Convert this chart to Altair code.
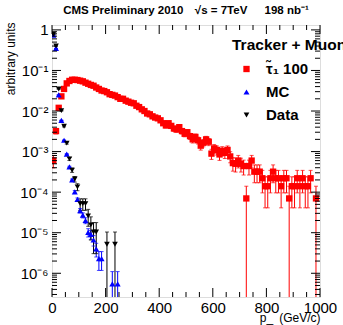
import altair as alt
import pandas as pd
import math

# ---------------- data ----------------
red_x = list(range(5, 1000, 10))
red_y = [6.0e-4, 3.2e-3, 1.2e-2, 2.3e-2, 3.5e-2, 4.8e-2, 5.5e-2, 5.9e-2, 5.9e-2, 5.8e-2,
         5.6e-2, 5.4e-2, 5.0e-2, 4.7e-2, 4.4e-2, 4.2e-2, 3.8e-2, 3.5e-2, 3.2e-2, 3.1e-2,
         2.9e-2, 2.6e-2, 2.5e-2, 2.4e-2, 2.2e-2, 2.0e-2, 2.0e-2, 1.8e-2, 1.7e-2, 1.6e-2,
         1.55e-2, 1.35e-2, 1.25e-2, 1.1e-2, 1.0e-2, 8.7e-3, 8.3e-3, 7.4e-3, 6.9e-3, 6.6e-3,
         5.9e-3, 5.0e-3, 4.4e-3, 5.0e-3, 4.3e-3, 3.7e-3, 3.5e-3, 4.0e-3, 3.2e-3, 2.75e-3,
         3.0e-3, 2.4e-3, 2.0e-3, 2.3e-3, 1.9e-3, 1.4e-3, 1.65e-3, 2.0e-3, 1.75e-3, 8.9e-4,
         1.2e-3, 1.1e-3, 8.5e-4, 1.05e-3, 9.3e-4, 1.1e-3, 7.6e-4, 5.2e-4, 5.0e-4, 6.0e-4,
         5.0e-4, 4.4e-4, 7.0e-5, 4.4e-4, 6.0e-4, 3.2e-4, 3.2e-4, 3.2e-4, 2.2e-4, 1.4e-4,
         1.4e-4, 2.2e-4, 3.2e-4, 2.2e-4, 2.2e-4, 1.4e-4, 2.2e-4, 2.2e-4, 7.0e-5, 1.4e-4,
         1.4e-4, 2.2e-4, 1.4e-4, 2.2e-4, 1.4e-4, 1.4e-4, 2.2e-4, None, 7.0e-5, None]
red_w = 7.0e-5

mc_x = [5, 15, 25, 35, 45, 55, 65, 75, 85, 95, 105, 115, 125, 135, 145, 155, 165, 175, 185, 225, 245]
mc_y = [0.74, 0.35, 0.025, 5.9e-3, 1.9e-3, 8.7e-4, 4.2e-4, 2.0e-4, 1.02e-4, 6.6e-5, 3.5e-5,
        2.7e-5, 2.0e-5, 1.02e-5, 9.1e-6, 6.6e-6, 4.0e-6, 2.3e-6, 2.3e-6, 5.5e-7, 5.5e-7]
mc_w = 5.5e-7

data_x = [5, 15, 25, 35, 45, 55, 65, 75, 85, 95, 105, 115, 125, 135, 145, 155, 165, 205, 235]
data_y = [0.78, 0.40, 0.035, 0.0102, 4.2e-3, 1.62e-3, 6.6e-4, 3.5e-4, 2.1e-4, 1.35e-4, 5.2e-5,
          5.2e-5, 5.2e-5, 2.6e-5, 1.56e-5, 1.04e-5, 1.04e-5, 5.2e-6, 5.2e-6]
data_w = 5.2e-6

series_names = ["τ̃₁ 100", "MC", "Data"]
series_colors = ["#ff0000", "#0000ff", "#000000"]
series_shapes = ["square", "triangle-up", "triangle-down"]
series_sizes = [40, 32, 32]

x_labels = [0, 200, 400, 600, 800, 1000]
y_labels = [1e-6, 1e-5, 1e-4, 1e-3, 1e-2, 1e-1, 1]

YMIN, YMAX = 2.6e-7, 1.32
XMIN, XMAX = 0, 1000
W, H = 268, 272

# ---------------- tables ----------------
rows = []
for name, xs_, ys_, w in [(series_names[0], red_x, red_y, red_w),
                          (series_names[1], mc_x, mc_y, mc_w),
                          (series_names[2], data_x, data_y, data_w)]:
    for x, y in zip(xs_, ys_):
        if y is None:
            continue
        err = math.sqrt(y * w)
        lo = y - err
        rows.append(dict(series=name, x=x, y=y, hi=y + err,
                         lo=max(lo, YMIN), has_lo=bool(lo > YMIN * 1.01)))
df = pd.DataFrame(rows)

ymaj = pd.DataFrame({"v": [10.0 ** k for k in range(-6, 1)]})
ymin_t = pd.DataFrame({"v": [m * 10.0 ** k for k in range(-7, 1) for m in range(2, 10)
                             if YMIN < m * 10.0 ** k < YMAX]})
xmaj = pd.DataFrame({"v": list(range(0, 1001, 200))})
xmin_t = pd.DataFrame({"v": [v for v in range(50, 1000, 50) if v % 200]})

xs = alt.Scale(domain=[XMIN, XMAX], nice=False, zero=False)
ys = alt.Scale(type="log", domain=[YMIN, YMAX], nice=False)
cscale = alt.Scale(domain=series_names, range=series_colors)
sscale = alt.Scale(domain=series_names, range=series_shapes)
zscale = alt.Scale(domain=series_names, range=series_sizes)

FONT = "Liberation Sans"
SP = "\u2002"

x_axis = alt.Axis(values=x_labels, format="d", ticks=False, tickSize=0, domain=False, grid=False,
                  labelFontSize=15, labelFont=FONT, labelColor="black", labelPadding=3,
                  labelFlush=False, labelOverlap=False,
                  title="p_" + SP + "(GeV/c)", titleFont=FONT, titleFontSize=12,
                  titleFontWeight="normal", titleColor="black", titleX=W, titleY=20,
                  titleAlign="right", titleBaseline="middle")
y_axis = alt.Axis(values=y_labels, ticks=False, tickSize=0, domain=False, grid=False,
                  labelExpr="datum.value >= 0.5 ? '1' : '10' + ['⁻¹','⁻²','⁻³','⁻⁴','⁻⁵','⁻⁶','⁻⁷'][round(-log(datum.value)/LN10)-1]",
                  labelFontSize=15, labelFont=FONT, labelColor="black", labelPadding=4,
                  labelFlush=False, labelOverlap=False,
                  title="arbitrary units", titleFont=FONT, titleFontSize=12,
                  titleFontWeight="normal", titleColor="black", titleX=-42, titleY=-3,
                  titleAngle=270, titleAlign="right", titleBaseline="middle")

legend = alt.Legend(orient="none", legendX=180, legendY=13, title="Tracker + Muon",
                    titleFont=FONT, titleFontSize=15.5, titleFontWeight="bold", titleColor="black",
                    titlePadding=8, labelFont=FONT, labelFontSize=15, labelFontWeight="bold",
                    labelColor="black", symbolSize=70, symbolStrokeWidth=0, symbolOpacity=1,
                    rowPadding=7, symbolOffset=7, labelOffset=12, titleLimit=400)

color_enc = alt.Color("series:N", scale=cscale, legend=legend, sort=series_names)

base = alt.Chart(df)

err = base.mark_rule(clip=True, strokeWidth=1).encode(
    x=alt.X("x:Q", scale=xs, axis=x_axis),
    y=alt.Y("lo:Q", scale=ys, axis=y_axis),
    y2="hi:Q",
    color=color_enc,
)
cap_hi = base.mark_tick(clip=True, orient="horizontal", size=4, thickness=1).encode(
    x=alt.X("x:Q", scale=xs), y=alt.Y("hi:Q", scale=ys),
    color=color_enc,
)
cap_lo = base.transform_filter("datum.has_lo").mark_tick(
    clip=True, orient="horizontal", size=4, thickness=1).encode(
    x=alt.X("x:Q", scale=xs), y=alt.Y("lo:Q", scale=ys),
    color=color_enc,
)
pts = base.mark_point(filled=True, opacity=1, clip=True, strokeWidth=0).encode(
    x=alt.X("x:Q", scale=xs), y=alt.Y("y:Q", scale=ys),
    color=color_enc,
    shape=alt.Shape("series:N", scale=sscale, legend=legend, sort=series_names),
    size=alt.Size("series:N", scale=zscale, legend=None),
)

def ytick(dfv, length, side):
    x0 = 0 if side == "l" else W
    x1 = length if side == "l" else W - length
    return alt.Chart(dfv).mark_rule(color="black", strokeWidth=1).encode(
        y=alt.Y("v:Q", scale=ys), x=alt.value(x0), x2=alt.value(x1))

def xtick(dfv, length, side):
    y0 = H if side == "b" else 0
    y1 = H - length if side == "b" else length
    return alt.Chart(dfv).mark_rule(color="black", strokeWidth=1).encode(
        x=alt.X("v:Q", scale=xs), y=alt.value(y0), y2=alt.value(y1))

ticks = [ytick(ymaj, 9, "l"), ytick(ymin_t, 5, "l"), ytick(ymaj, 9, "r"), ytick(ymin_t, 5, "r"),
         xtick(xmaj, 9, "b"), xtick(xmin_t, 5, "b"), xtick(xmaj, 9, "t"), xtick(xmin_t, 5, "t")]

chart = alt.layer(err, cap_hi, cap_lo, pts, *ticks).properties(
    width=W, height=H,
    autosize=alt.AutoSizeParams(type="none"),
    padding={"left": 52, "top": 25, "right": 23, "bottom": 28},
    title=alt.TitleParams("CMS Preliminary 2010" + SP + SP + "√s = 7TeV" + SP + SP + SP + "198 nb⁻¹",
                          font=FONT, fontSize=11.5, fontWeight="bold", color="black",
                          anchor="middle", offset=6),
).configure_view(stroke="black", strokeWidth=1).configure(background="white")

chart.save("out.html", embed_options={"renderer": "svg", "actions": False})
